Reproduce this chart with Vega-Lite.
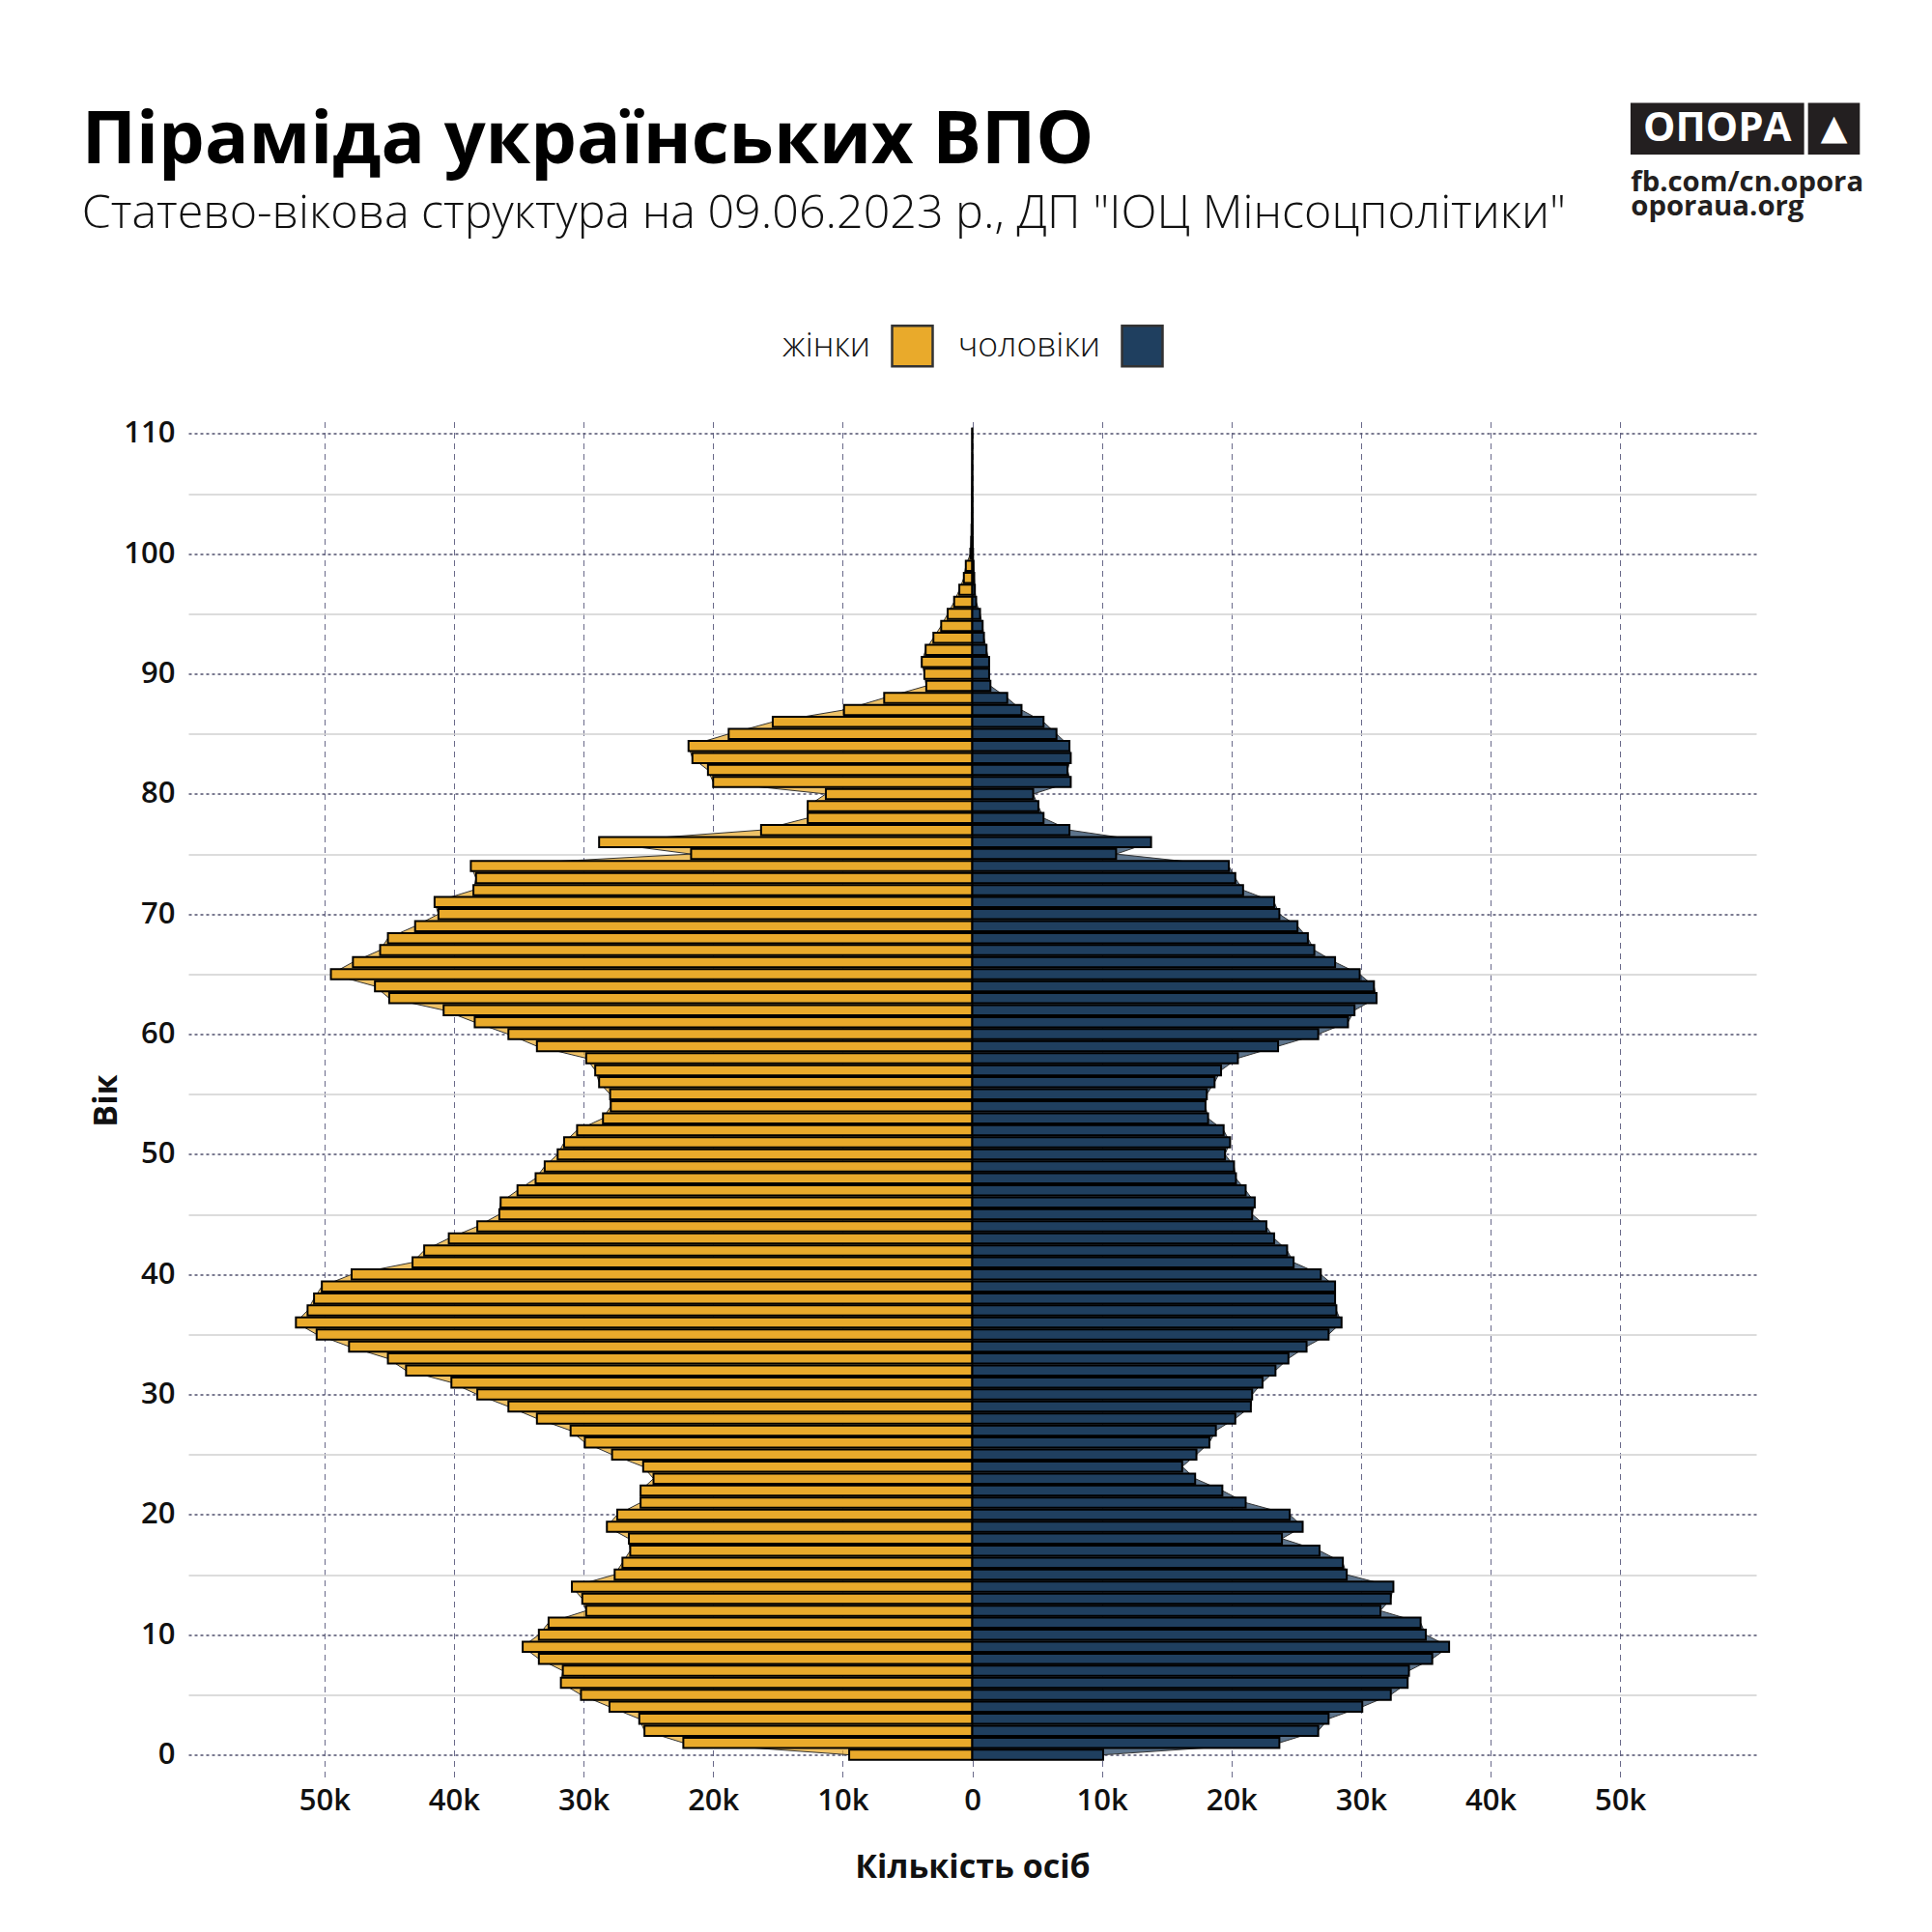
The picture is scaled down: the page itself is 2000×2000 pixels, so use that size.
{
  "$schema": "https://vega.github.io/schema/vega-lite/v6.json",
  "background": "white",
  "padding": {"left": 84, "top": 105.5, "right": 20, "bottom": 20},
  "width": 1623,
  "height": 1405,
  "title": {
    "text": "Піраміда українських ВПО",
    "subtitle": "Статево-вікова структура на 09.06.2023 р., ДП \"ІОЦ Мінсоцполітики\"",
    "anchor": "start",
    "frame": "bounds",
    "offset": -138.5,
    "dx": -9,
    "font": "Open Sans",
    "fontSize": 75.5,
    "fontWeight": "bold",
    "color": "#000000",
    "subtitleFont": "Open Sans",
    "subtitleFontSize": 48.4,
    "subtitleFontWeight": 300,
    "subtitleColor": "#111111",
    "subtitlePadding": 13
  },
  "data": {
    "values": [
      {"age": 0, "sex": "жінки", "value": -9500}, {"age": 0, "sex": "чоловіки", "value": 10100},
      {"age": 1, "sex": "жінки", "value": -22300}, {"age": 1, "sex": "чоловіки", "value": 23700},
      {"age": 2, "sex": "жінки", "value": -25300}, {"age": 2, "sex": "чоловіки", "value": 26700},
      {"age": 3, "sex": "жінки", "value": -25700}, {"age": 3, "sex": "чоловіки", "value": 27500},
      {"age": 4, "sex": "жінки", "value": -28000}, {"age": 4, "sex": "чоловіки", "value": 30100},
      {"age": 5, "sex": "жінки", "value": -30200}, {"age": 5, "sex": "чоловіки", "value": 32300},
      {"age": 6, "sex": "жінки", "value": -31750}, {"age": 6, "sex": "чоловіки", "value": 33600},
      {"age": 7, "sex": "жінки", "value": -31600}, {"age": 7, "sex": "чоловіки", "value": 33700},
      {"age": 8, "sex": "жінки", "value": -33450}, {"age": 8, "sex": "чоловіки", "value": 35500},
      {"age": 9, "sex": "жінки", "value": -34700}, {"age": 9, "sex": "чоловіки", "value": 36800},
      {"age": 10, "sex": "жінки", "value": -33450}, {"age": 10, "sex": "чоловіки", "value": 35000},
      {"age": 11, "sex": "жінки", "value": -32700}, {"age": 11, "sex": "чоловіки", "value": 34600},
      {"age": 12, "sex": "жінки", "value": -29800}, {"age": 12, "sex": "чоловіки", "value": 31500},
      {"age": 13, "sex": "жінки", "value": -30100}, {"age": 13, "sex": "чоловіки", "value": 32300},
      {"age": 14, "sex": "жінки", "value": -30900}, {"age": 14, "sex": "чоловіки", "value": 32500},
      {"age": 15, "sex": "жінки", "value": -27600}, {"age": 15, "sex": "чоловіки", "value": 28900},
      {"age": 16, "sex": "жінки", "value": -27000}, {"age": 16, "sex": "чоловіки", "value": 28600},
      {"age": 17, "sex": "жінки", "value": -26400}, {"age": 17, "sex": "чоловіки", "value": 26800},
      {"age": 18, "sex": "жінки", "value": -26500}, {"age": 18, "sex": "чоловіки", "value": 23900},
      {"age": 19, "sex": "жінки", "value": -28200}, {"age": 19, "sex": "чоловіки", "value": 25500},
      {"age": 20, "sex": "жінки", "value": -27400}, {"age": 20, "sex": "чоловіки", "value": 24500},
      {"age": 21, "sex": "жінки", "value": -25600}, {"age": 21, "sex": "чоловіки", "value": 21100},
      {"age": 22, "sex": "жінки", "value": -25600}, {"age": 22, "sex": "чоловіки", "value": 19300},
      {"age": 23, "sex": "жінки", "value": -24600}, {"age": 23, "sex": "чоловіки", "value": 17200},
      {"age": 24, "sex": "жінки", "value": -25400}, {"age": 24, "sex": "чоловіки", "value": 16200},
      {"age": 25, "sex": "жінки", "value": -27800}, {"age": 25, "sex": "чоловіки", "value": 17300},
      {"age": 26, "sex": "жінки", "value": -29900}, {"age": 26, "sex": "чоловіки", "value": 18300},
      {"age": 27, "sex": "жінки", "value": -31000}, {"age": 27, "sex": "чоловіки", "value": 18800},
      {"age": 28, "sex": "жінки", "value": -33600}, {"age": 28, "sex": "чоловіки", "value": 20300},
      {"age": 29, "sex": "жінки", "value": -35800}, {"age": 29, "sex": "чоловіки", "value": 21500},
      {"age": 30, "sex": "жінки", "value": -38200}, {"age": 30, "sex": "чоловіки", "value": 21600},
      {"age": 31, "sex": "жінки", "value": -40200}, {"age": 31, "sex": "чоловіки", "value": 22400},
      {"age": 32, "sex": "жінки", "value": -43700}, {"age": 32, "sex": "чоловіки", "value": 23400},
      {"age": 33, "sex": "жінки", "value": -45100}, {"age": 33, "sex": "чоловіки", "value": 24400},
      {"age": 34, "sex": "жінки", "value": -48100}, {"age": 34, "sex": "чоловіки", "value": 25800},
      {"age": 35, "sex": "жінки", "value": -50600}, {"age": 35, "sex": "чоловіки", "value": 27500},
      {"age": 36, "sex": "жінки", "value": -52200}, {"age": 36, "sex": "чоловіки", "value": 28500},
      {"age": 37, "sex": "жінки", "value": -51300}, {"age": 37, "sex": "чоловіки", "value": 28100},
      {"age": 38, "sex": "жінки", "value": -50800}, {"age": 38, "sex": "чоловіки", "value": 28000},
      {"age": 39, "sex": "жінки", "value": -50200}, {"age": 39, "sex": "чоловіки", "value": 28000},
      {"age": 40, "sex": "жінки", "value": -47900}, {"age": 40, "sex": "чоловіки", "value": 26900},
      {"age": 41, "sex": "жінки", "value": -43200}, {"age": 41, "sex": "чоловіки", "value": 24800},
      {"age": 42, "sex": "жінки", "value": -42300}, {"age": 42, "sex": "чоловіки", "value": 24300},
      {"age": 43, "sex": "жінки", "value": -40400}, {"age": 43, "sex": "чоловіки", "value": 23300},
      {"age": 44, "sex": "жінки", "value": -38200}, {"age": 44, "sex": "чоловіки", "value": 22700},
      {"age": 45, "sex": "жінки", "value": -36500}, {"age": 45, "sex": "чоловіки", "value": 21600},
      {"age": 46, "sex": "жінки", "value": -36400}, {"age": 46, "sex": "чоловіки", "value": 21800},
      {"age": 47, "sex": "жінки", "value": -35100}, {"age": 47, "sex": "чоловіки", "value": 21100},
      {"age": 48, "sex": "жінки", "value": -33700}, {"age": 48, "sex": "чоловіки", "value": 20350},
      {"age": 49, "sex": "жінки", "value": -33000}, {"age": 49, "sex": "чоловіки", "value": 20200},
      {"age": 50, "sex": "жінки", "value": -32000}, {"age": 50, "sex": "чоловіки", "value": 19500},
      {"age": 51, "sex": "жінки", "value": -31500}, {"age": 51, "sex": "чоловіки", "value": 19900},
      {"age": 52, "sex": "жінки", "value": -30500}, {"age": 52, "sex": "чоловіки", "value": 19400},
      {"age": 53, "sex": "жінки", "value": -28500}, {"age": 53, "sex": "чоловіки", "value": 18200},
      {"age": 54, "sex": "жінки", "value": -27900}, {"age": 54, "sex": "чоловіки", "value": 18000},
      {"age": 55, "sex": "жінки", "value": -27950}, {"age": 55, "sex": "чоловіки", "value": 18100},
      {"age": 56, "sex": "жінки", "value": -28800}, {"age": 56, "sex": "чоловіки", "value": 18700},
      {"age": 57, "sex": "жінки", "value": -29100}, {"age": 57, "sex": "чоловіки", "value": 19200},
      {"age": 58, "sex": "жінки", "value": -29800}, {"age": 58, "sex": "чоловіки", "value": 20500},
      {"age": 59, "sex": "жінки", "value": -33600}, {"age": 59, "sex": "чоловіки", "value": 23600},
      {"age": 60, "sex": "жінки", "value": -35800}, {"age": 60, "sex": "чоловіки", "value": 26700},
      {"age": 61, "sex": "жінки", "value": -38400}, {"age": 61, "sex": "чоловіки", "value": 29000},
      {"age": 62, "sex": "жінки", "value": -40800}, {"age": 62, "sex": "чоловіки", "value": 29500},
      {"age": 63, "sex": "жінки", "value": -45000}, {"age": 63, "sex": "чоловіки", "value": 31200},
      {"age": 64, "sex": "жінки", "value": -46100}, {"age": 64, "sex": "чоловіки", "value": 31000},
      {"age": 65, "sex": "жінки", "value": -49500}, {"age": 65, "sex": "чоловіки", "value": 29900},
      {"age": 66, "sex": "жінки", "value": -47800}, {"age": 66, "sex": "чоловіки", "value": 28000},
      {"age": 67, "sex": "жінки", "value": -45700}, {"age": 67, "sex": "чоловіки", "value": 26400},
      {"age": 68, "sex": "жінки", "value": -45100}, {"age": 68, "sex": "чоловіки", "value": 25900},
      {"age": 69, "sex": "жінки", "value": -43000}, {"age": 69, "sex": "чоловіки", "value": 25100},
      {"age": 70, "sex": "жінки", "value": -41200}, {"age": 70, "sex": "чоловіки", "value": 23700},
      {"age": 71, "sex": "жінки", "value": -41500}, {"age": 71, "sex": "чоловіки", "value": 23300},
      {"age": 72, "sex": "жінки", "value": -38500}, {"age": 72, "sex": "чоловіки", "value": 20900},
      {"age": 73, "sex": "жінки", "value": -38300}, {"age": 73, "sex": "чоловіки", "value": 20300},
      {"age": 74, "sex": "жінки", "value": -38700}, {"age": 74, "sex": "чоловіки", "value": 19800},
      {"age": 75, "sex": "жінки", "value": -21700}, {"age": 75, "sex": "чоловіки", "value": 11100},
      {"age": 76, "sex": "жінки", "value": -28800}, {"age": 76, "sex": "чоловіки", "value": 13800},
      {"age": 77, "sex": "жінки", "value": -16300}, {"age": 77, "sex": "чоловіки", "value": 7500},
      {"age": 78, "sex": "жінки", "value": -12700}, {"age": 78, "sex": "чоловіки", "value": 5500},
      {"age": 79, "sex": "жінки", "value": -12700}, {"age": 79, "sex": "чоловіки", "value": 5100},
      {"age": 80, "sex": "жінки", "value": -11300}, {"age": 80, "sex": "чоловіки", "value": 4700},
      {"age": 81, "sex": "жінки", "value": -20000}, {"age": 81, "sex": "чоловіки", "value": 7600},
      {"age": 82, "sex": "жінки", "value": -20400}, {"age": 82, "sex": "чоловіки", "value": 7350},
      {"age": 83, "sex": "жінки", "value": -21600}, {"age": 83, "sex": "чоловіки", "value": 7600},
      {"age": 84, "sex": "жінки", "value": -21900}, {"age": 84, "sex": "чоловіки", "value": 7500},
      {"age": 85, "sex": "жінки", "value": -18800}, {"age": 85, "sex": "чоловіки", "value": 6500},
      {"age": 86, "sex": "жінки", "value": -15400}, {"age": 86, "sex": "чоловіки", "value": 5500},
      {"age": 87, "sex": "жінки", "value": -9900}, {"age": 87, "sex": "чоловіки", "value": 3800},
      {"age": 88, "sex": "жінки", "value": -6800}, {"age": 88, "sex": "чоловіки", "value": 2700},
      {"age": 89, "sex": "жінки", "value": -3550}, {"age": 89, "sex": "чоловіки", "value": 1400},
      {"age": 90, "sex": "жінки", "value": -3700}, {"age": 90, "sex": "чоловіки", "value": 1300},
      {"age": 91, "sex": "жінки", "value": -3900}, {"age": 91, "sex": "чоловіки", "value": 1300},
      {"age": 92, "sex": "жінки", "value": -3600}, {"age": 92, "sex": "чоловіки", "value": 1100},
      {"age": 93, "sex": "жінки", "value": -3000}, {"age": 93, "sex": "чоловіки", "value": 900},
      {"age": 94, "sex": "жінки", "value": -2400}, {"age": 94, "sex": "чоловіки", "value": 800},
      {"age": 95, "sex": "жінки", "value": -1900}, {"age": 95, "sex": "чоловіки", "value": 600},
      {"age": 96, "sex": "жінки", "value": -1400}, {"age": 96, "sex": "чоловіки", "value": 300},
      {"age": 97, "sex": "жінки", "value": -1000}, {"age": 97, "sex": "чоловіки", "value": 200},
      {"age": 98, "sex": "жінки", "value": -650}, {"age": 98, "sex": "чоловіки", "value": 150},
      {"age": 99, "sex": "жінки", "value": -500}, {"age": 99, "sex": "чоловіки", "value": 100},
      {"age": 100, "sex": "жінки", "value": -150}, {"age": 100, "sex": "чоловіки", "value": 60},
      {"age": 101, "sex": "жінки", "value": -90}, {"age": 101, "sex": "чоловіки", "value": 40},
      {"age": 102, "sex": "жінки", "value": -60}, {"age": 102, "sex": "чоловіки", "value": 30},
      {"age": 103, "sex": "жінки", "value": -40}, {"age": 103, "sex": "чоловіки", "value": 20},
      {"age": 104, "sex": "жінки", "value": -30}, {"age": 104, "sex": "чоловіки", "value": 15},
      {"age": 105, "sex": "жінки", "value": -20}, {"age": 105, "sex": "чоловіки", "value": 10},
      {"age": 106, "sex": "жінки", "value": -15}, {"age": 106, "sex": "чоловіки", "value": 8},
      {"age": 107, "sex": "жінки", "value": -10}, {"age": 107, "sex": "чоловіки", "value": 5},
      {"age": 108, "sex": "жінки", "value": -8}, {"age": 108, "sex": "чоловіки", "value": 4},
      {"age": 109, "sex": "жінки", "value": -5}, {"age": 109, "sex": "чоловіки", "value": 3},
      {"age": 110, "sex": "жінки", "value": -3}, {"age": 110, "sex": "чоловіки", "value": 2}
    ]
  },
  "resolve": {"axis": {"y": "independent"}},
  "layer": [
    {
      "mark": {"type": "area", "orient": "horizontal", "fillOpacity": 0.72, "stroke": "#333333", "strokeWidth": 1},
      "encoding": {
        "y": {"field": "age", "type": "quantitative",
              "scale": {"domain": [-1.6, 110.6], "nice": false, "zero": false},
              "axis": {"orient": "left", "values": [5, 15, 25, 35, 45, 55, 65, 75, 85, 95, 105],
                       "grid": true, "gridColor": "#d0d0d0", "gridWidth": 1.5,
                       "labels": false, "ticks": false, "domain": false, "title": null}},
        "x": {"field": "value", "type": "quantitative", "stack": null,
              "scale": {"domain": [-60500, 60500], "nice": false}},
        "color": {"field": "sex", "type": "nominal"}
      }
    },
    {
      "mark": {"type": "bar", "orient": "horizontal", "size": 10.5, "stroke": "#000000", "strokeWidth": 2},
      "encoding": {
        "y": {"field": "age", "type": "quantitative",
              "axis": {"orient": "left", "values": [0, 10, 20, 30, 40, 50, 60, 70, 80, 90, 100, 110],
                       "grid": true, "gridDash": [3, 3], "gridColor": "#50506e", "gridWidth": 1.5,
                       "labelPadding": 14, "title": "Вік", "titlePadding": 0}},
        "x": {"field": "value", "type": "quantitative", "stack": null,
              "axis": {"values": [-50000, -40000, -30000, -20000, -10000, 0, 10000, 20000, 30000, 40000, 50000],
                       "labelExpr": "datum.value == 0 ? '0' : abs(datum.value) / 1000 + 'k'",
                       "grid": true, "gridDash": [6, 5], "gridColor": "#6a6a8a", "gridWidth": 1,
                       "labelPadding": 8, "title": "Кількість осіб", "titlePadding": 37}},
        "color": {"field": "sex", "type": "nominal",
                  "scale": {"domain": ["жінки", "чоловіки"], "range": ["#E9AA2B", "#1F3F5F"]},
                  "legend": {"title": null, "orient": "none", "legendX": 727, "legendY": -101,
                             "direction": "horizontal", "symbolType": "square", "symbolSize": 1764,
                             "symbolStrokeColor": "#000000", "symbolStrokeWidth": 2.5, "symbolOpacity": 1,
                             "symbolFillOpacity": 1,
                             "labelFont": "Open Sans", "labelFontSize": 35.5, "labelFontWeight": 300,
                             "labelColor": "#111111", "labelAlign": "right", "labelOffset": -66,
                             "columnPadding": 20, "labelLimit": 300}}
      }
    },
    {
      "data": {"values": [{}]},
      "mark": {"type": "rect", "fill": "#231f20"},
      "encoding": {
        "x": {"datum": 50800, "type": "quantitative"}, "x2": {"datum": 64200},
        "y": {"datum": 137.55, "type": "quantitative", "axis": null}, "y2": {"datum": 133.25}
      }
    },
    {
      "data": {"values": [{}]},
      "mark": {"type": "rect", "fill": "#231f20"},
      "encoding": {
        "x": {"datum": 64500, "type": "quantitative"}, "x2": {"datum": 68500},
        "y": {"datum": 137.55, "type": "quantitative", "axis": null}, "y2": {"datum": 133.25}
      }
    },
    {
      "data": {"values": [{}]},
      "mark": {"type": "text", "text": "ОПОРА", "font": "Open Sans", "fontSize": 42, "fontWeight": "bold",
               "fill": "#ffffff", "align": "center", "baseline": "middle"},
      "encoding": {
        "x": {"datum": 57500, "type": "quantitative"},
        "y": {"datum": 135.45, "type": "quantitative", "axis": null}
      }
    },
    {
      "data": {"values": [{}]},
      "mark": {"type": "text", "text": "▲", "font": "DejaVu Sans", "fontSize": 36,
               "fill": "#ffffff", "align": "center", "baseline": "middle"},
      "encoding": {
        "x": {"datum": 66500, "type": "quantitative"},
        "y": {"datum": 135.45, "type": "quantitative", "axis": null}
      }
    },
    {
      "data": {"values": [{}]},
      "mark": {"type": "text", "text": ["fb.com/cn.opora", "oporaua.org"], "lineHeight": 25,
               "font": "Open Sans", "fontSize": 29.3, "fontWeight": "bold",
               "fill": "#231f20", "align": "left", "baseline": "alphabetic"},
      "encoding": {
        "x": {"datum": 50830, "type": "quantitative"},
        "y": {"datum": 130.15, "type": "quantitative", "axis": null}
      }
    }
  ],
  "config": {
    "view": {"stroke": null},
    "axis": {
      "labelFont": "Open Sans",
      "labelFontSize": 31,
      "labelFontWeight": 600,
      "labelColor": "#111111",
      "titleFont": "Open Sans",
      "titleFontSize": 34,
      "titleFontWeight": "bold",
      "titleColor": "#111111",
      "ticks": false,
      "domain": false
    }
  }
}
